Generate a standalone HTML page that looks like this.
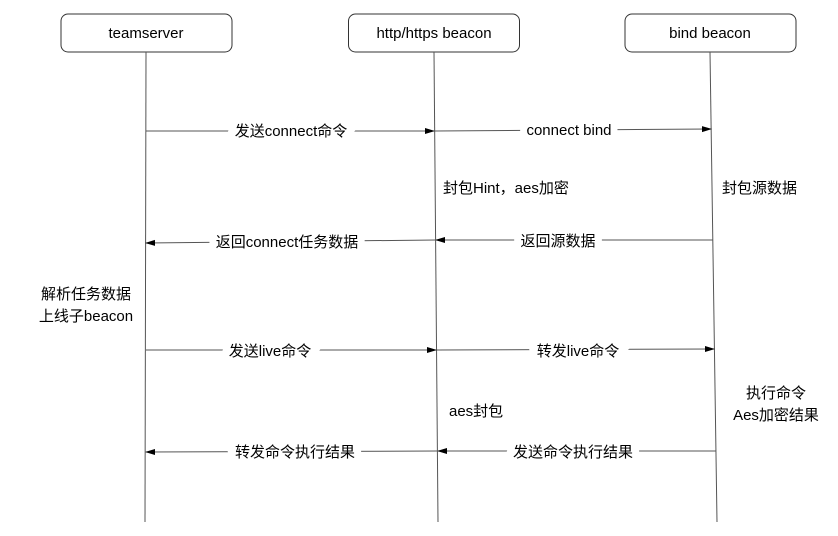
<!DOCTYPE html>
<html><head><meta charset="utf-8"><style>
html,body{margin:0;padding:0;background:#fff;}
svg{display:block;}
text{font-family:"Liberation Sans","Noto Sans CJK SC",sans-serif;font-size:15px;fill:#000;}
.l{stroke:#fff;stroke-width:14px;paint-order:stroke;stroke-linejoin:miter;}
</style></head><body>
<svg width="838" height="536" viewBox="0 0 838 536" xmlns="http://www.w3.org/2000/svg">
<defs><marker id="a" markerWidth="10" markerHeight="8" refX="9" refY="4" orient="auto" markerUnits="userSpaceOnUse"><path d="M0,1 L10,4 L0,7 Z" fill="#000"/></marker></defs>
<g fill="#fff" stroke="#333" stroke-width="1">
<rect x="61" y="14" width="171" height="38" rx="7"/>
<rect x="348.5" y="14" width="171" height="38" rx="7"/>
<rect x="625" y="14" width="171" height="38" rx="7"/>
</g>
<text x="146" y="38" text-anchor="middle">teamserver</text>
<text x="434" y="38" text-anchor="middle">http/https beacon</text>
<text x="710" y="38" text-anchor="middle">bind beacon</text>
<g stroke="#555" stroke-width="1" fill="none">
<line x1="146" y1="52" x2="145" y2="522"/>
<line x1="434" y1="52" x2="438" y2="522"/>
<line x1="710" y1="52" x2="717" y2="522"/>
</g>
<g stroke="#555" stroke-width="1" fill="none" marker-end="url(#a)">
<line x1="146" y1="131" x2="434" y2="131"/>
<line x1="435" y1="131" x2="711" y2="129"/>
<line x1="713" y1="240" x2="436" y2="240"/>
<line x1="436" y1="240" x2="146" y2="243"/>
<line x1="146" y1="350" x2="436" y2="350"/>
<line x1="437" y1="350" x2="714" y2="349"/>
<line x1="716" y1="451" x2="438" y2="451"/>
<line x1="438" y1="451" x2="146" y2="452"/>
</g>
<text class="l" x="291" y="136" text-anchor="middle">发送connect命令</text>
<text class="l" x="569" y="135" text-anchor="middle">connect bind</text>
<text class="l" x="287" y="247" text-anchor="middle">返回connect任务数据</text>
<text class="l" x="558" y="246" text-anchor="middle">返回源数据</text>
<text class="l" x="270" y="356" text-anchor="middle">发送live命令</text>
<text class="l" x="578" y="356" text-anchor="middle">转发live命令</text>
<text class="l" x="295" y="457" text-anchor="middle">转发命令执行结果</text>
<text class="l" x="573" y="457" text-anchor="middle">发送命令执行结果</text>
<text x="443" y="193">封包Hint，aes加密</text>
<text x="722" y="193">封包源数据</text>
<text x="86" y="299" text-anchor="middle">解析任务数据</text>
<text x="86" y="321" text-anchor="middle">上线子beacon</text>
<text x="449" y="416">aes封包</text>
<text x="776" y="398" text-anchor="middle">执行命令</text>
<text x="776" y="420" text-anchor="middle">Aes加密结果</text>
</svg>
</body></html>
